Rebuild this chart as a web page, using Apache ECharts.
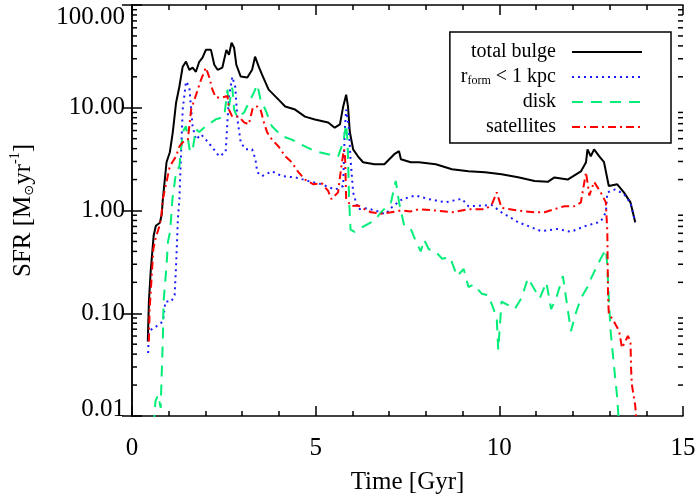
<!DOCTYPE html>
<html>
<head>
<meta charset="utf-8">
<script src="https://cdn.jsdelivr.net/npm/echarts@6/dist/echarts.min.js"></script>
<style>
  html, body { margin: 0; padding: 0; background: #fff; }
  #chart { width: 700px; height: 500px; }
</style>
</head>
<body>
<div id="chart"></div>
<script>
// values (time in Gyr, SFR in Msun/yr)
const timeBulge = [0.43,0.46,0.51,0.59,0.65,0.76,0.81,0.84,0.94,1.03,1.11,1.20,1.29,1.38,1.47,1.56,1.65,1.74,1.83,1.92,2.01,2.15,2.24,2.33,2.46,2.57,2.64,2.71,2.78,2.84,2.96,3.14,3.27,3.35,3.45,3.54,3.72,3.99,4.17,4.44,4.71,4.98,5.34,5.52,5.66,5.75,5.83,5.88,5.93,6.02,6.15,6.29,6.60,6.87,7.14,7.27,7.32,7.59,7.81,8.27,8.71,9.16,9.61,10.06,10.51,10.96,11.32,11.50,11.86,12.22,12.36,12.40,12.49,12.58,12.71,12.85,12.98,13.21,13.39,13.57,13.70];
const sfrBulge = [0.053,0.13,0.26,0.57,0.71,0.76,0.92,1.29,2.95,3.69,5.76,11.2,16.1,25.1,28.1,23.4,24.6,22.4,28,30.7,36.6,36.6,26.2,23.4,24.6,36.6,32.8,42.9,38.3,26.2,20.1,19.7,23.4,31.4,25.1,21.0,15.0,12.0,10.3,9.6,8.2,7.7,7.2,6.4,6.9,10.3,13.4,10.3,5.8,3.94,3.37,2.95,2.82,2.82,3.53,3.78,3.15,2.95,2.95,2.82,2.52,2.41,2.36,2.25,2.11,1.94,1.90,2.1,2.0,2.4,2.95,3.94,3.37,3.94,3.4,2.95,1.73,1.8,1.5,1.2,0.77];

const timeInner = [0.44,0.46,0.65,0.84,0.91,1.07,1.16,1.20,1.25,1.29,1.34,1.38,1.47,1.56,1.61,1.65,1.74,1.88,2.01,2.19,2.37,2.55,2.59,2.64,2.73,2.81,2.87,2.96,3.09,3.27,3.36,3.41,3.54,3.81,4.08,4.44,4.80,5.16,5.52,5.75,5.79,5.83,5.90,5.95,6.02,6.15,6.40,6.70,6.90,7.10,7.36,7.72,8.08,8.53,8.98,9.16,9.79,10.06,10.51,11.14,11.59,11.95,12.31,12.76,12.90,12.94,13.15,13.39,13.57,13.70];
const sfrInner = [0.041,0.067,0.074,0.083,0.13,0.13,0.15,0.29,0.83,1.29,3.94,9.6,18.0,16,9.6,6.6,4.9,5.5,4.9,4.1,3.37,3.7,6.6,12.8,20,16,7.7,4.6,3.94,3.94,3.15,2.36,2.16,2.41,2.16,2.1,1.94,1.8,1.6,1.73,5.8,9.6,6.6,3.15,1.5,1.03,1.05,0.98,0.92,1.1,1.29,1.4,1.29,1.2,1.3,1.1,1.13,0.96,0.77,0.63,0.66,0.62,0.70,0.78,0.96,1.5,1.6,1.45,1.18,0.77];

const timeDisk = [0.59,0.64,0.71,0.78,0.84,0.86,0.94,0.98,1.04,1.10,1.20,1.29,1.38,1.47,1.58,1.65,1.74,1.83,2.01,2.28,2.51,2.60,2.64,2.73,2.78,2.87,3.05,3.18,3.32,3.41,3.50,3.63,3.81,4.08,4.35,4.71,4.98,5.34,5.61,5.75,5.83,5.87,5.91,5.95,6.06,6.33,6.60,6.78,7.05,7.18,7.27,7.41,7.59,7.73,7.86,7.95,8.08,8.26,8.44,8.66,8.85,9.03,9.16,9.30,9.52,9.70,9.84,9.93,9.97,10.06,10.24,10.42,10.60,10.78,10.96,11.10,11.28,11.41,11.55,11.73,11.86,11.95,12.08,12.22,12.40,12.50,12.62,12.76,12.90,12.94,12.98,13.03,13.12,13.21,13.26];
const sfrDisk = [0.008,0.014,0.016,0.012,0.057,0.13,0.29,0.50,0.63,1.29,2.36,2.7,5.8,6.6,3.7,3.9,6.2,5.8,6.6,7.7,8.2,15,10.3,15.7,9.6,8.0,9.0,11.2,14.1,16.8,12,9.6,6.6,5.3,4.9,4.2,3.78,3.53,3.37,4.6,6.9,4.6,1.29,0.65,0.62,0.71,0.80,0.96,1.2,1.94,1.2,0.71,0.66,0.50,0.40,0.52,0.42,0.40,0.34,0.35,0.23,0.27,0.18,0.19,0.155,0.15,0.111,0.088,0.044,0.13,0.12,0.11,0.14,0.22,0.17,0.14,0.20,0.11,0.14,0.23,0.11,0.067,0.10,0.14,0.18,0.22,0.27,0.34,0.42,0.29,0.14,0.067,0.031,0.015,0.008];

const timeSat = [0.46,0.48,0.53,0.58,0.65,0.75,0.80,0.84,1.03,1.20,1.29,1.38,1.52,1.61,1.70,1.79,1.88,2.01,2.10,2.19,2.28,2.46,2.60,2.64,2.73,2.91,3.05,3.18,3.29,3.41,3.50,3.59,3.68,3.81,3.99,4.17,4.35,4.53,4.71,4.94,5.16,5.34,5.43,5.61,5.70,5.77,5.80,5.83,5.97,6.15,6.33,6.51,6.78,7.05,7.32,7.59,7.81,8.26,8.71,9.16,9.61,9.79,9.93,10.06,10.51,10.96,11.23,11.50,11.77,12.04,12.22,12.36,12.45,12.58,12.76,12.90,12.94,12.96,12.98,13.12,13.26,13.34,13.50,13.57,13.59,13.61,13.70,13.74];
const sfrSat = [0.053,0.11,0.21,0.42,0.55,0.71,0.9,1.29,2.7,3.37,4.2,4.6,4.9,9.6,12,15,18.8,24.6,20,15,12.6,12.6,13,9.6,8.2,8.2,7.2,6.9,10,10.3,9.6,7.2,5.76,4.9,4.2,3.37,2.95,2.36,2.0,1.8,1.85,1.55,1.29,1.5,2.7,3.94,3.4,1.29,1.1,1.12,1.03,0.96,0.93,0.96,1.0,0.98,1.03,1.0,0.96,1.03,1.03,1.13,1.5,1.06,1.0,0.96,0.96,1.03,1.1,1.1,1.2,2.36,1.4,1.9,1.5,1.2,0.62,0.14,0.10,0.083,0.067,0.046,0.06,0.053,0.027,0.02,0.0126,0.008];

const seriesNames = ['total bulge', 'rform', 'disk', 'satellites'];
// log minor ticks (2..9 in each decade)
const minorTickValues = [];
[0.01, 0.1, 1, 10].forEach(d => {
  for (let m = 2; m <= 9; m++) minorTickValues.push(+(d * m).toPrecision(3));
});

const pairs = (t, v) => t.map((x, i) => [x, v[i]]);
const FONT = 'Liberation Serif';

const chart = echarts.init(document.getElementById('chart'), null, { renderer: 'canvas' });

function lineSeries(name, t, v, color, type) {
  return {
    name: name,
    type: 'line',
    data: pairs(t, v),
    symbol: 'none',
    clip: true,
    lineStyle: { color: color, width: 2, type: type },
    itemStyle: { color: color },
    emphasis: { disabled: true }
  };
}

const axisBase = {
  axisLine: { lineStyle: { color: '#000', width: 1.5 } },
  splitLine: { show: false }
};

const option = {
  animation: false,
  grid: { left: 127, right: 17, top: 5, bottom: 83 },
  legend: {
    data: seriesNames,
    orient: 'vertical',
    align: 'right',
    right: 29,
    top: 32,
    padding: [10, 28, 6, 11],
    itemGap: 5,
    itemWidth: 70,
    itemHeight: 14,
    borderColor: '#000',
    borderWidth: 1.5,
    backgroundColor: '#fff',
    selectedMode: false,
    itemStyle: { opacity: 0 },
    formatter: name => name === 'rform' ? '{r|r}{s|form}{r| < 1 kpc}' : name,
    textStyle: {
      fontFamily: FONT,
      fontSize: 20,
      color: '#000',
      lineHeight: 20,
      padding: [0, 11, 0, 0],
      rich: {
        r: { fontFamily: FONT, fontSize: 20, lineHeight: 20, color: '#000' },
        s: { fontFamily: FONT, fontSize: 12, lineHeight: 20, color: '#000', verticalAlign: 'bottom', padding: [6, 0, 0, 0] }
      }
    }
  },
  xAxis: [
    Object.assign({}, axisBase, {
      type: 'value', min: 0, max: 15, interval: 5,
      name: 'Time [Gyr]', nameLocation: 'middle', nameGap: 54,
      nameTextStyle: { fontFamily: FONT, fontSize: 25, color: '#000' },
      axisTick: { inside: true, length: 10, lineStyle: { color: '#000', width: 1.5 } },
      minorTick: { show: true, splitNumber: 5, length: 5, lineStyle: { color: '#000', width: 1.5 } },
      axisLabel: { fontFamily: FONT, fontSize: 25, color: '#000', margin: 20 }
    }),
    Object.assign({}, axisBase, {
      type: 'value', min: 0, max: 15, interval: 5, position: 'top',
      axisTick: { inside: true, length: 10, lineStyle: { color: '#000', width: 1.5 } },
      minorTick: { show: true, splitNumber: 5, length: 5, lineStyle: { color: '#000', width: 1.5 } },
      axisLabel: { show: false }
    })
  ],
  yAxis: [
    Object.assign({}, axisBase, {
      type: 'log', logBase: 10, min: 0.01, max: 100,
      name: '{a|SFR [M}{s|\u2299}{a|yr}{p|-1}{a|]}',
      nameLocation: 'middle', nameGap: 94,
      nameTextStyle: {
        fontFamily: FONT, fontSize: 25, color: '#000',
        rich: {
          a: { fontFamily: FONT, fontSize: 25, color: '#000', lineHeight: 30 },
          s: { fontFamily: 'DejaVu Sans', fontSize: 13, color: '#000', lineHeight: 30, verticalAlign: 'bottom', padding: [0, 0, 2, 0] },
          p: { fontFamily: FONT, fontSize: 14, color: '#000', lineHeight: 30, verticalAlign: 'top' }
        }
      },
      axisTick: { inside: true, length: 10, lineStyle: { color: '#000', width: 1.5 } },
      axisLabel: {
        fontFamily: FONT, fontSize: 25, color: '#000', margin: 7,
        formatter: v => v <= 0.0100001 ? '{lo|' + v.toFixed(2) + '}' : v.toFixed(2),
        verticalAlignMinLabel: 'bottom',
        verticalAlignMaxLabel: 'top',
        rich: {
          lo: { fontFamily: FONT, fontSize: 25, color: '#000', lineHeight: 14 }
        }
      }
    }),
    Object.assign({}, axisBase, {
      type: 'log', logBase: 10, min: 0.01, max: 100, position: 'right',
      axisTick: { inside: true, length: 10, lineStyle: { color: '#000', width: 1.5 } },
      axisLabel: { show: false }
    })
  ],
  series: [
    lineSeries('total bulge', timeBulge, sfrBulge, '#000000', 'solid'),
    lineSeries('rform', timeInner, sfrInner, '#1a1aff', [2, 4]),
    lineSeries('disk', timeDisk, sfrDisk, '#00ee77', [11, 8]),
    lineSeries('satellites', timeSat, sfrSat, '#ff0000', [8, 4, 2, 4]),
    {
      type: 'custom',
      silent: true,
      data: minorTickValues.map(v => [0, v]),
      renderItem: (params, api) => {
        const v = api.value(1);
        const l = api.coord([0, v]);
        const r = api.coord([15, v]);
        const st = { stroke: '#000', lineWidth: 1.5 };
        return {
          type: 'group',
          children: [
            { type: 'line', shape: { x1: l[0], y1: l[1], x2: l[0] + 5, y2: l[1] }, style: st },
            { type: 'line', shape: { x1: r[0] - 5, y1: r[1], x2: r[0], y2: r[1] }, style: st }
          ]
        };
      }
    }
  ]
};

chart.setOption(option);
window.addEventListener('resize', () => chart.resize());
</script>
</body>
</html>
